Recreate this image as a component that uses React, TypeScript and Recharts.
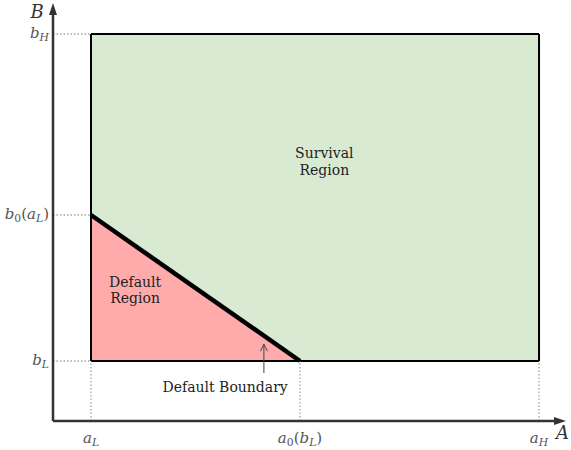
import React from 'react';
import { ComposedChart, XAxis, YAxis, Area, ReferenceArea, ReferenceLine, ReferenceDot } from 'recharts';

// Asset value A levels (a_L, a_0(b_L), a_H) and B levels (b_L, b_0(a_L), b_H)
const aTicks = [1, 6.5, 12.79];
const bTicks = [1, 3.4333, 6.45];
const aMax = 13.5;
const bMax = 6.9667;
// tick label pieces: [main, subscript, argMain, argSub]
const aTickLabels: [string, string, string, string][] = [
  ['a', 'L', '', ''],
  ['a', '0', 'b', 'L'],
  ['a', 'H', '', ''],
];
const bTickLabels: [string, string, string, string][] = [
  ['b', 'L', '', ''],
  ['b', '0', 'a', 'L'],
  ['b', 'H', '', ''],
];
// default region boundary
const boundary = [
  { a: 1, b: 3.4333 },
  { a: 6.5, b: 1 },
];
const regionLabels = [
  { a: 7.14, b: 4.38, lines: ['Survival', 'Region'] },
  { a: 2.16, b: 2.24, lines: ['Default', 'Region'] },
];
const boundaryLabel = { a: 4.53, b: 0.49, text: 'Default Boundary' };
const boundaryArrow = { a: 5.55, from: 0.8, to: 1.28 };

const FONT = 'DejaVu Serif';
const GRAY = '#555';

function renderLabel(parts: [string, string, string, string], fs: number) {
  const [m, s, am, as] = parts;
  const sub = fs * 0.72;
  const subItalic = /[A-Za-z]/.test(s) ? 'italic' : 'normal';
  const out: React.ReactNode[] = [];
  out.push(<tspan key="m" fontStyle="italic">{m}</tspan>);
  out.push(<tspan key="s" fontSize={sub} fontStyle={subItalic} dy={3}>{s}</tspan>);
  if (am) {
    out.push(<tspan key="p1" dy={-3}>(</tspan>);
    out.push(<tspan key="am" fontStyle="italic">{am}</tspan>);
    out.push(<tspan key="as" fontSize={sub} fontStyle="italic" dy={3}>{as}</tspan>);
    out.push(<tspan key="p2" dy={-3}>)</tspan>);
  }
  return out;
}

const XTick = (props: any) => {
  const { x, y, payload } = props;
  const idx = aTicks.indexOf(payload.value);
  if (idx < 0) return null;
  return (
    <text x={x} y={y + 14} textAnchor="middle" fontFamily={FONT} fontSize={15} fill={GRAY}>
      {renderLabel(aTickLabels[idx], 15)}
    </text>
  );
};

const YTick = (props: any) => {
  const { x, y, payload } = props;
  const idx = bTicks.indexOf(payload.value);
  if (idx < 0) return null;
  return (
    <text x={x + 4} y={y + 4} textAnchor="end" fontFamily={FONT} fontSize={15} fill={GRAY}>
      {renderLabel(bTickLabels[idx], 15)}
    </text>
  );
};

const textShape = (lines: string[], size: number) => (p: any) => (
  <text x={p.cx} y={p.cy} textAnchor="middle" fontFamily={FONT} fontSize={size} fill="#222">
    {lines.map((l, i) => (
      <tspan key={i} x={p.cx} dy={i === 0 ? 0 : size * 1.2}>{l}</tspan>
    ))}
  </text>
);

const upArrowHead = (p: any) => (
  <path d={`M ${p.cx - 4} ${p.cy + 12} L ${p.cx} ${p.cy} L ${p.cx + 4} ${p.cy + 12} Z`} fill="#333" />
);
const rightArrowHead = (p: any) => (
  <path d={`M ${p.cx - 12} ${p.cy - 4} L ${p.cx} ${p.cy} L ${p.cx - 12} ${p.cy + 4} Z`} fill="#333" />
);
const openArrowHead = (p: any) => (
  <path d={`M ${p.cx - 3.5} ${p.cy + 7} L ${p.cx} ${p.cy} L ${p.cx + 3.5} ${p.cy + 7}`} fill="none" stroke="#444" strokeWidth={1} />
);
const axisLetter = (t: string) => (p: any) => (
  <text x={p.cx} y={p.cy} textAnchor="middle" fontFamily={FONT} fontStyle="italic" fontSize={18} fill="#333">{t}</text>
);

export default function App() {
  const [aL, a0, aH] = aTicks;
  const [bL, b0, bH] = bTicks;
  const dash = '1.5 2';
  return (
    <div style={{ position: 'absolute', left: 0, top: 0, background: '#fff' }}>
      <ComposedChart width={571} height={450} margin={{ top: 3, right: 5, left: 0, bottom: 0 }}>
        <XAxis
          dataKey="a"
          type="number"
          domain={[0, aMax]}
          ticks={aTicks}
          axisLine={false}
          tickLine={false}
          height={29}
          interval={0}
          tick={<XTick />}
          allowDataOverflow
        />
        <YAxis
          dataKey="b"
          type="number"
          domain={[0, bMax]}
          ticks={bTicks}
          axisLine={false}
          tickLine={false}
          width={53}
          interval={0}
          tick={<YTick />}
          allowDataOverflow
        />
        <ReferenceArea x1={aL} x2={aH} y1={bL} y2={bH} fill="#d9ead3" fillOpacity={1} stroke="none" />
        <Area
          data={boundary}
          dataKey="b"
          type="linear"
          baseValue={bL}
          fill="#ffabab"
          fillOpacity={1}
          stroke="#000"
          strokeWidth={4.5}
          isAnimationActive={false}
          dot={false}
          activeDot={false}
        />
        {/* rectangle border */}
        <ReferenceLine segment={[{ x: aL, y: bL }, { x: aH, y: bL }]} stroke="#000" strokeWidth={2} />
        <ReferenceLine segment={[{ x: aL, y: bH }, { x: aH, y: bH }]} stroke="#000" strokeWidth={2} />
        <ReferenceLine segment={[{ x: aL, y: bL }, { x: aL, y: bH }]} stroke="#000" strokeWidth={2} />
        <ReferenceLine segment={[{ x: aH, y: bL }, { x: aH, y: bH }]} stroke="#000" strokeWidth={2} />
        {/* dotted guides */}
        {bTicks.map((b, i) => (
          <ReferenceLine key={'h' + i} segment={[{ x: 0, y: b }, { x: aL, y: b }]} stroke="#777" strokeWidth={1} strokeDasharray={dash} />
        ))}
        {aTicks.map((a, i) => (
          <ReferenceLine key={'v' + i} segment={[{ x: a, y: 0 }, { x: a, y: bL }]} stroke="#888" strokeWidth={1} strokeDasharray={dash} />
        ))}
        {/* axes */}
        <ReferenceLine segment={[{ x: 0, y: 0 }, { x: aMax - 0.2, y: 0 }]} stroke="#333" strokeWidth={2.5} />
        <ReferenceLine segment={[{ x: 0, y: 0 }, { x: 0, y: bMax - 0.1 }]} stroke="#333" strokeWidth={2.5} />
        <ReferenceDot x={0} y={bMax} r={0} shape={upArrowHead} ifOverflow="visible" />
        <ReferenceDot x={aMax} y={0} r={0} shape={rightArrowHead} ifOverflow="visible" />
        <ReferenceDot x={-0.42} y={bMax - 0.25} r={0} shape={axisLetter('B')} ifOverflow="visible" />
        <ReferenceDot x={aMax - 0.09} y={-0.3} r={0} shape={axisLetter('A')} ifOverflow="visible" />
        {/* region labels */}
        {regionLabels.map((r, i) => (
          <ReferenceDot key={'r' + i} x={r.a} y={r.b} r={0} shape={textShape(r.lines, 14)} ifOverflow="visible" />
        ))}
        <ReferenceDot x={boundaryLabel.a} y={boundaryLabel.b} r={0} shape={textShape([boundaryLabel.text], 14)} ifOverflow="visible" />
        <ReferenceLine segment={[{ x: boundaryArrow.a, y: boundaryArrow.from }, { x: boundaryArrow.a, y: boundaryArrow.to }]} stroke="#444" strokeWidth={1} />
        <ReferenceDot x={boundaryArrow.a} y={boundaryArrow.to} r={0} shape={openArrowHead} ifOverflow="visible" />
      </ComposedChart>
    </div>
  );
}
